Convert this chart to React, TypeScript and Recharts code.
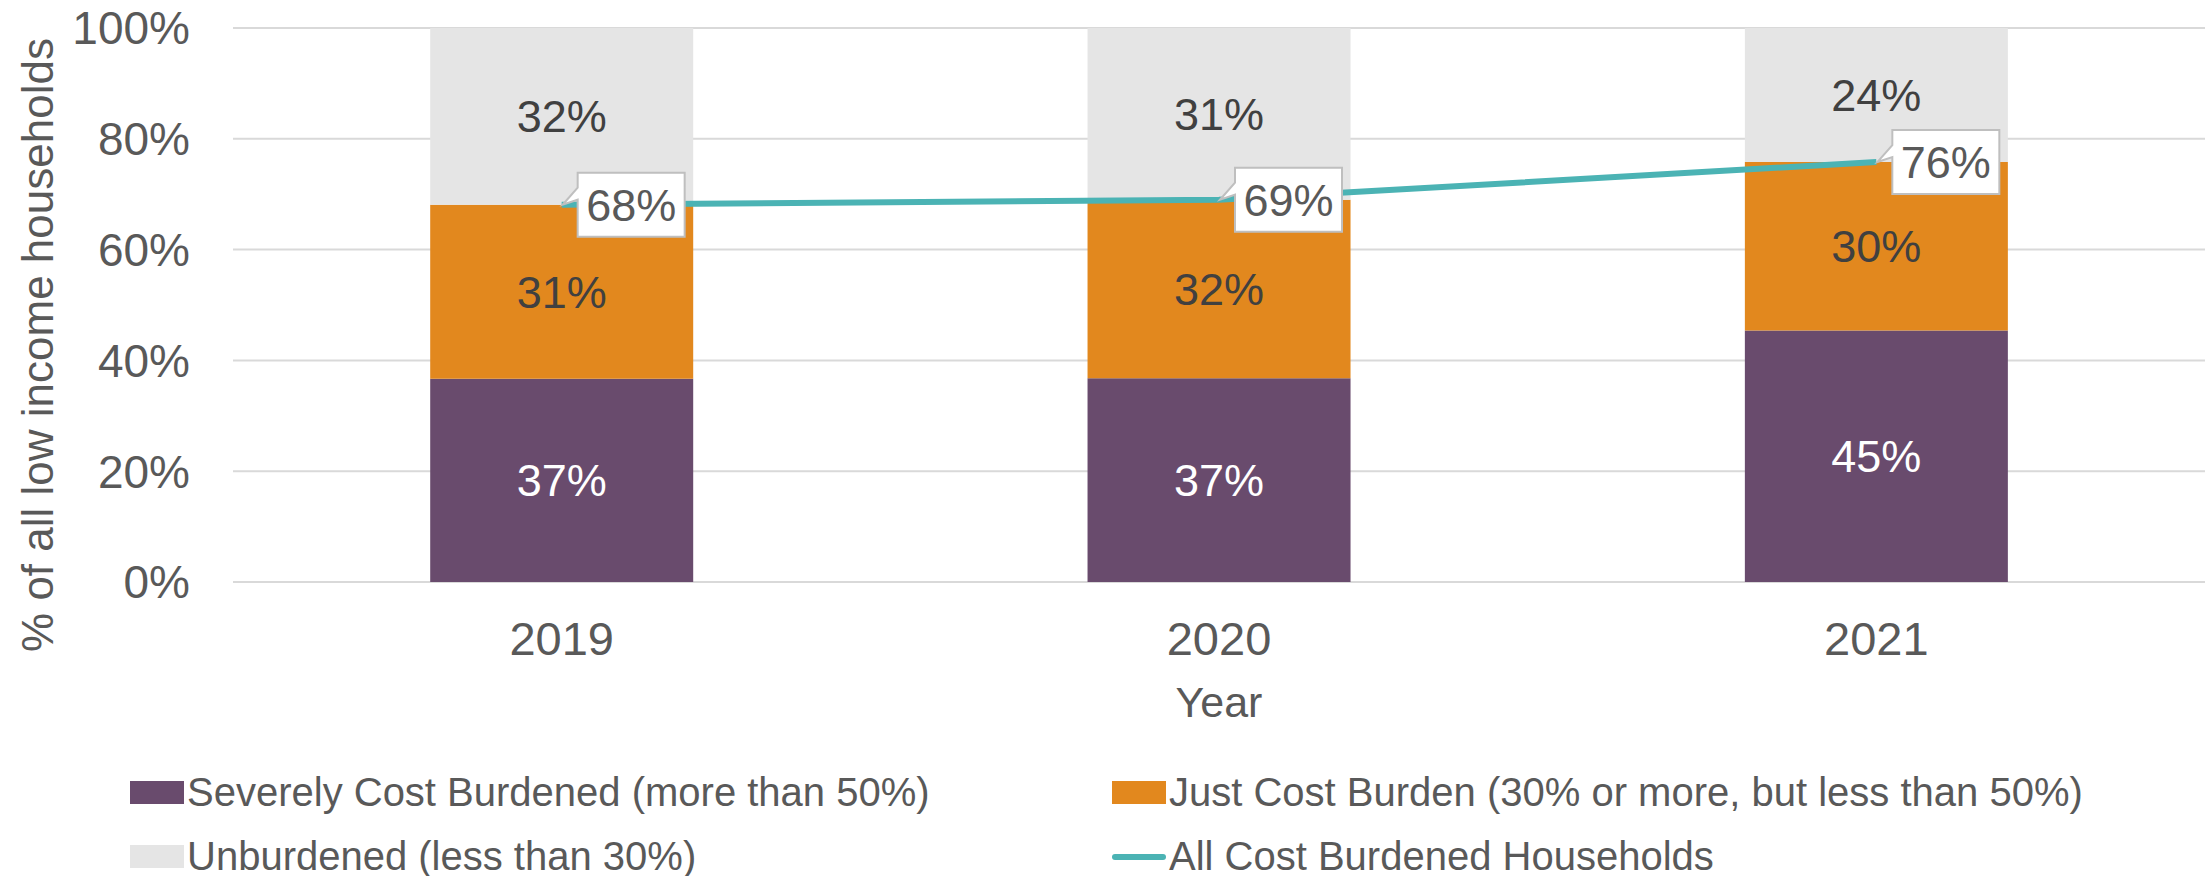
import React from 'react';
import { ComposedChart, Bar, Line, XAxis, YAxis, CartesianGrid, Legend, LabelList } from 'recharts';

const FONT = '"Liberation Sans", Arial, sans-serif';

const years = ['2019', '2020', '2021'];
const severelyBurdened = [36.7, 36.8, 45.4];
const justBurdened = [31.4, 32.2, 30.4];
const unburdened = [31.9, 31.0, 24.2];
const allBurdened = [68.1, 69.0, 75.8];
const yTicks = [0, 20, 40, 60, 80, 100];

const seriesNames = {
  severe: 'Severely Cost Burdened (more than 50%)',
  just: 'Just Cost Burden (30% or more, but less than 50%)',
  unb: 'Unburdened (less than 30%)',
  all: 'All Cost Burdened Households',
};

const COLORS = {
  severe: '#694B6D',
  just: '#E2881E',
  unb: '#E5E5E5',
  all: '#4BB3B4',
};

const data = years.map((year, i) => ({
  year,
  severe: severelyBurdened[i],
  just: justBurdened[i],
  unb: unburdened[i],
  all: allBurdened[i],
}));

const pct = (v: any) => `${Math.round(Number(v))}%`;

const Callout = (props: any) => {
  const vb = props.viewBox || {};
  const x = props.x ?? vb.x;
  const y = props.y ?? vb.y;
  if (x == null || y == null) return null;
  const left = x + 16;
  const right = x + 123;
  const top = y - 32;
  const bottom = y + 32;
  const d = `M${left},${top} H${right} V${bottom} H${left} V${y - 5} L${x + 1},${y} L${left},${y - 17} Z`;
  return (
    <g>
      <path d={d} fill="#FFFFFF" stroke="#BFBFBF" strokeWidth={2} />
      <text
        x={(left + right) / 2}
        y={y}
        dy="0.36em"
        textAnchor="middle"
        fontSize={45}
        fontFamily={FONT}
        fill="#595959"
      >
        {pct(props.value)}
      </text>
    </g>
  );
};

const YTitle = () => {
  const bx = 53;
  const cy = 345;
  return (
    <text
      x={bx}
      y={cy}
      transform={`rotate(-90, ${bx}, ${cy})`}
      textAnchor="middle"
      fontSize={44}
      fontFamily={FONT}
      fill="#595959"
    >
      % of all low income households
    </text>
  );
};

const XTitle = (props: any) => {
  const vb = props.viewBox || { x: 233, y: 582, width: 1972, height: 164 };
  return (
    <text
      x={vb.x + vb.width / 2}
      y={vb.y + 135}
      textAnchor="middle"
      fontSize={43}
      fontFamily={FONT}
      fill="#595959"
    >
      Year
    </text>
  );
};

const legendItems = [
  { key: 'severe', col: 0, row: 0, type: 'rect' },
  { key: 'just', col: 1, row: 0, type: 'rect' },
  { key: 'unb', col: 0, row: 1, type: 'rect' },
  { key: 'all', col: 1, row: 1, type: 'line' },
] as const;

const colX = [130, 1112];
const rowCenter = [47, 111];

const LegendContent = () => (
  <div style={{ position: 'relative', width: 2205, height: 130, fontFamily: FONT }}>
    {legendItems.map((it) => {
      const x = colX[it.col];
      const cy = rowCenter[it.row];
      const color = (COLORS as any)[it.key];
      return (
        <React.Fragment key={it.key}>
          {it.type === 'rect' ? (
            <div
              style={{
                position: 'absolute',
                left: x,
                top: cy - 12,
                width: 54,
                height: 23,
                background: color,
              }}
            />
          ) : (
            <div
              style={{
                position: 'absolute',
                left: x,
                top: cy - 3,
                width: 54,
                height: 6,
                borderRadius: 3,
                background: color,
              }}
            />
          )}
          <span
            style={{
              position: 'absolute',
              left: x + 57,
              top: cy - 24,
              lineHeight: '46px',
              fontSize: 40,
              color: '#595959',
              whiteSpace: 'nowrap',
            }}
          >
            {(seriesNames as any)[it.key]}
          </span>
        </React.Fragment>
      );
    })}
  </div>
);

export default function App() {
  return (
    <div style={{ position: 'absolute', left: 0, top: 0, width: 2211, height: 876, background: '#FFFFFF' }}>
      <ComposedChart
        width={2211}
        height={876}
        data={data}
        margin={{ top: 28, right: 6, left: 0, bottom: 0 }}
        barCategoryGap="30%"
      >
        <CartesianGrid vertical={false} stroke="#D9D9D9" strokeWidth={2} />
        <XAxis
          dataKey="year"
          axisLine={false}
          tickLine={false}
          tickSize={0}
          tickMargin={40}
          height={164}
          tick={{ fontSize: 47, fill: '#595959', fontFamily: FONT }}
          label={<XTitle />}
        />
        <YAxis
          domain={[0, 100]}
          ticks={yTicks}
          tickFormatter={(v: number) => `${v}%`}
          axisLine={false}
          tickLine={false}
          tickSize={0}
          tickMargin={43}
          width={233}
          interval={0}
          tick={{ fontSize: 46, fill: '#595959', fontFamily: FONT }}
          label={<YTitle />}
        />
        <Legend
          verticalAlign="bottom"
          align="left"
          content={<LegendContent />}
          wrapperStyle={{ left: 0, bottom: 0, height: 130 }}
        />
        <Bar dataKey="severe" name={seriesNames.severe} stackId="a" fill={COLORS.severe} isAnimationActive={false}>
          <LabelList dataKey="severe" position="center" formatter={pct} fill="#FFFFFF" fontSize={45} fontFamily={FONT} />
        </Bar>
        <Bar dataKey="just" name={seriesNames.just} stackId="a" fill={COLORS.just} isAnimationActive={false}>
          <LabelList dataKey="just" position="center" formatter={pct} fill="#404040" fontSize={45} fontFamily={FONT} />
        </Bar>
        <Bar dataKey="unb" name={seriesNames.unb} stackId="a" fill={COLORS.unb} isAnimationActive={false}>
          <LabelList dataKey="unb" position="center" formatter={pct} fill="#404040" fontSize={45} fontFamily={FONT} />
        </Bar>
        <Line
          dataKey="all"
          name={seriesNames.all}
          type="linear"
          stroke={COLORS.all}
          strokeWidth={6}
          dot={false}
          activeDot={false}
          isAnimationActive={false}
        >
          <LabelList dataKey="all" content={<Callout />} />
        </Line>
      </ComposedChart>
    </div>
  );
}
